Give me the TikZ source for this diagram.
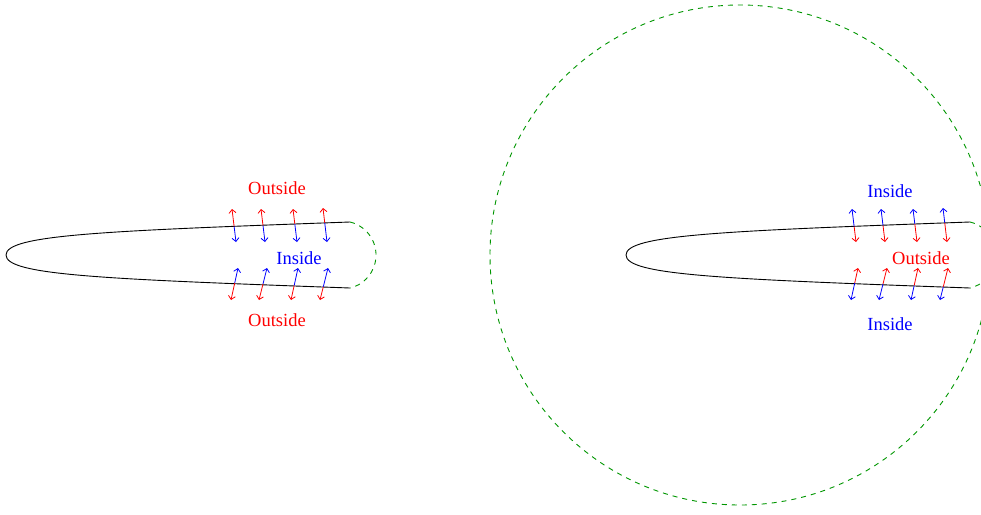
\documentclass[tikz,border=0pt]{standalone}
\usepackage{fontspec}
\setmainfont{Liberation Serif}
\usetikzlibrary{arrows.meta,calc}
\definecolor{figgreen}{RGB}{0,150,0}
\tikzset{
  outline/.style={line width=0.9pt, black},
  boundary/.style={figgreen, line width=0.9pt, dash pattern=on 5pt off 5pt},
  halfarrow/.style={line width=0.8pt, -{Straight Barb[length=3.5pt,width=7pt]}},
  lbl/.style={font=\fontsize{18.5}{22}\selectfont, inner sep=0pt},
}
% P, Q, split fraction, colour toward P, colour toward Q
\newcommand{\splitarrow}[5]{%
  \coordinate (sp) at ($(#1)!#3!(#2)$);
  \draw[halfarrow,#4] (sp) -- (#1);
  \draw[halfarrow,#5] (sp) -- (#2);
}
% tapered body with its arrows: #1 outer colour, #2 inner colour
\newcommand{\taperbody}[2]{%
  \coordinate (tEnd) at (350,222);
  \coordinate (bEnd) at (350,288);
  \coordinate (tip) at (6,255);
  \draw[outline] (tEnd) .. controls (100,231) and (6,235) .. (tip)
                        .. controls (6,275) and (100,279) .. (bEnd);
  \draw[boundary] (tEnd) arc[start angle=76.4, end angle=-76.4, radius=34pt];
  % arrows across the upper edge
  \coordinate (a1p) at (232,209); \coordinate (a1q) at (236,242);
  \coordinate (a2p) at (261,209); \coordinate (a2q) at (265,242);
  \coordinate (a3p) at (293,209); \coordinate (a3q) at (297,242);
  \coordinate (a4p) at (323,208); \coordinate (a4q) at (327,242);
  \splitarrow{a1p}{a1q}{0.53}{#1}{#2}
  \splitarrow{a2p}{a2q}{0.50}{#1}{#2}
  \splitarrow{a3p}{a3q}{0.46}{#1}{#2}
  \splitarrow{a4p}{a4q}{0.44}{#1}{#2}
  % arrows across the lower edge
  \coordinate (b1p) at (238,268); \coordinate (b1q) at (231,300);
  \coordinate (b2p) at (267,268); \coordinate (b2q) at (259,300);
  \coordinate (b3p) at (298,268); \coordinate (b3q) at (291,300);
  \coordinate (b4p) at (328,268); \coordinate (b4q) at (320,300);
  \splitarrow{b1p}{b1q}{0.47}{#2}{#1}
  \splitarrow{b2p}{b2q}{0.50}{#2}{#1}
  \splitarrow{b3p}{b3q}{0.55}{#2}{#1}
  \splitarrow{b4p}{b4q}{0.59}{#2}{#1}
}
\begin{document}
\begin{tikzpicture}[x=1pt, y=-1pt]
  \useasboundingbox (0,0) rectangle (981,514);
  \clip (0,0) rectangle (981,514);

  % left figure
  \taperbody{red}{blue}
  \node[lbl, text=red]  (outTopL) at (277,188) {Outside};
  \node[lbl, text=blue] (inMidL)  at (299,258) {Inside};
  \node[lbl, text=red]  (outBotL) at (277,320) {Outside};

  % right figure
  \begin{scope}[xshift=620pt]
    \taperbody{blue}{red}
  \end{scope}
  \draw[boundary] (740,255) circle[radius=250pt];
  \node[lbl, text=blue] (inTopR)  at (890,191) {Inside};
  \node[lbl, text=red]  (outMidR) at (921,258) {Outside};
  \node[lbl, text=blue] (inBotR)  at (890,324) {Inside};
\end{tikzpicture}
\end{document}
